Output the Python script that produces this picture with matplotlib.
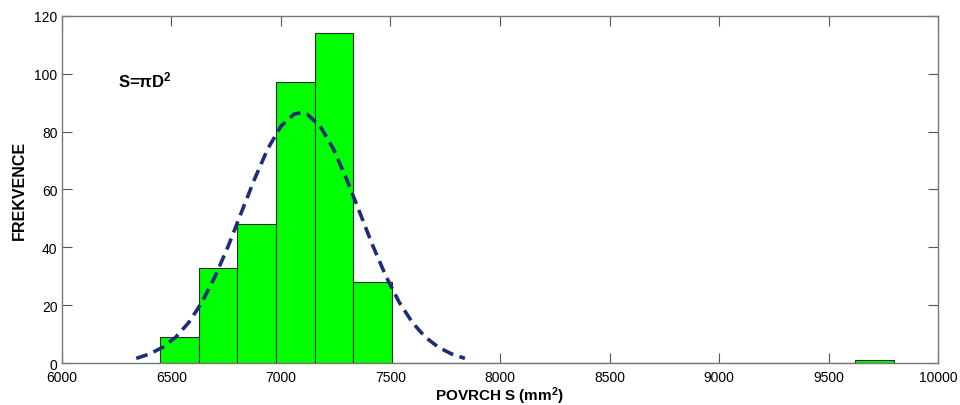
"""Histogram of surface area S with fitted normal curve."""
import numpy as np
from matplotlib import pyplot as plt

# histogram: first bin edge, bin width, counts per bin
bin_start = 6449
bin_width = 176.2
counts = [9, 33, 48, 97, 114, 28, 0, 0, 0, 0,
          0, 0, 0, 0, 0, 0, 0, 0, 1]

# fitted curve
curve_x = [6340, 6400, 6460, 6520, 6580, 6640, 6700, 6760, 6820, 6880,
           6940, 7000, 7060, 7090, 7120, 7180, 7240, 7300, 7360, 7420,
           7480, 7540, 7600, 7660, 7720, 7780, 7840]
curve_y = [1.7, 3.2, 5.5, 9.0, 14.1, 21.1, 30.0, 40.5, 52.1, 63.6,
           74.0, 81.8, 86.0, 86.5, 86.0, 81.8, 74.0, 63.6, 52.1, 40.5,
           30.0, 21.1, 14.1, 9.0, 5.5, 3.2, 1.7]

x_ticks = [6000, 6500, 7000, 7500, 8000, 8500, 9000, 9500, 10000]
y_ticks = [0, 20, 40, 60, 80, 100, 120]

plt.rcParams['font.family'] = ['Liberation Sans', 'DejaVu Sans']
plt.rcParams['mathtext.fontset'] = 'custom'
plt.rcParams['mathtext.rm'] = 'Liberation Sans:bold'
plt.rcParams['mathtext.it'] = 'Liberation Sans:bold'
plt.rcParams['mathtext.default'] = 'rm'

fig = plt.figure(figsize=(9.6, 4.06), dpi=100)
ax = fig.add_axes([0.0643, 0.1027, 0.913, 0.8562])

lefts = bin_start + bin_width * np.arange(len(counts))
ax.bar(lefts, counts, width=bin_width, align='edge',
       facecolor='#00ff00', edgecolor='#2a2a2a', linewidth=0.8, zorder=2)
ax.plot(curve_x, curve_y, color='#1f2d78', linewidth=2.6,
        linestyle=(0, (3.3, 1.8)), zorder=3)

ax.text(6255, 98, r'S=πD$^2$', fontsize=12, fontweight='bold',
        va='center', ha='left')

ax.set_xlim(6000, 10000)
ax.set_ylim(0, 120)
ax.set_xticks(x_ticks)
ax.set_yticks(y_ticks)
ax.tick_params(direction='in', length=7, width=0.8, color='#555555',
               top=True, right=True, labelsize=10)
ax.tick_params(axis='x', pad=5)
ax.tick_params(axis='y', pad=3)
for spine in ax.spines.values():
    spine.set_color('#777777')
    spine.set_linewidth(1.0)

ax.set_xlabel(r'POVRCH S (mm$^2$)', fontsize=11, fontweight='bold',
              labelpad=0)
ax.set_ylabel('FREKVENCE', fontsize=11.5, fontweight='bold', labelpad=5)

fig.savefig('out.png', dpi=100)
